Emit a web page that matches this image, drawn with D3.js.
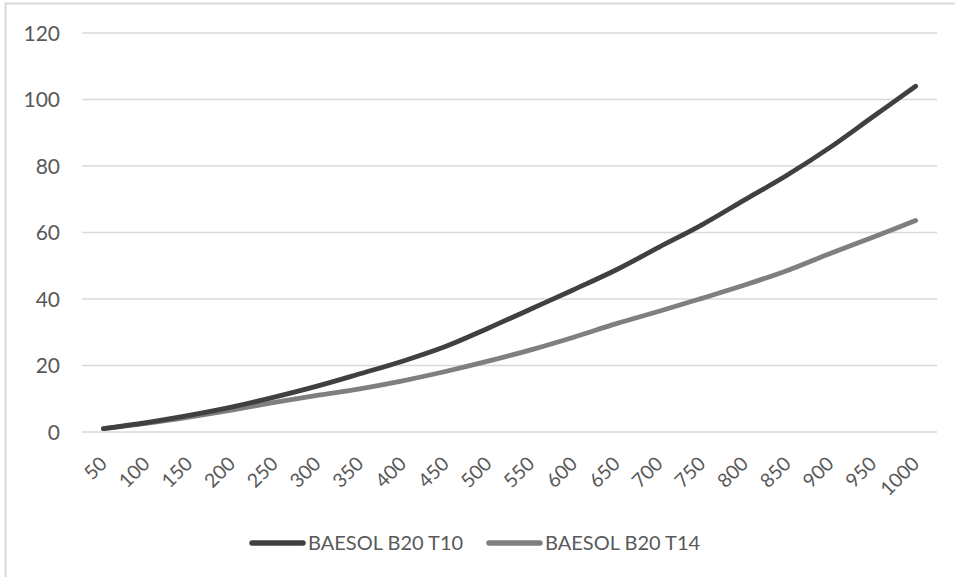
<!DOCTYPE html>
<html>
<head>
<meta charset="utf-8">
<script src="https://cdn.jsdelivr.net/npm/d3@7"></script>
<style>
  html, body { margin: 0; padding: 0; background: #fff; }
  svg { display: block; font-family: Lato, "Open Sans", sans-serif; }
</style>
</head>
<body>
<svg id="chart_svg" width="955" height="577"></svg>
<script>
const categories = ["50", "100", "150", "200", "250", "300", "350", "400", "450", "500",
  "550", "600", "650", "700", "750", "800", "850", "900", "950", "1000"];
const t10Values = [1, 2.8, 5, 7.5, 10.5, 13.8, 17.5, 21.3, 25.7, 31.2,
  37.0, 42.8, 48.8, 55.6, 62.3, 69.8, 77.3, 85.6, 94.8, 104];
const t14Values = [1, 2.6, 4.5, 6.6, 8.9, 11.0, 13.0, 15.4, 18.2, 21.3,
  24.7, 28.5, 32.6, 36.3, 40.2, 44.2, 48.6, 53.7, 58.6, 63.6];
const yTicks = [0, 20, 40, 60, 80, 100, 120];
const seriesNames = ["BAESOL B20 T10", "BAESOL B20 T14"];
const seriesColors = ["#404040", "#7f7f7f"];

const svg = d3.select("#chart_svg");

const plot = { left: 82, right: 937, top: 33, bottom: 432 };

// chart frame
svg.append("rect")
  .attr("x", 5.5).attr("y", 3.5)
  .attr("width", 1000).attr("height", 1000)
  .attr("fill", "none")
  .attr("stroke", "#d9d9d9")
  .attr("stroke-width", 2);

const xScale = d3.scalePoint()
  .domain(categories)
  .range([plot.left, plot.right])
  .padding(0.5);

const yScale = d3.scaleLinear()
  .domain([0, 120])
  .range([plot.bottom, plot.top]);

// gridlines
svg.append("g")
  .selectAll("line")
  .data(yTicks)
  .enter()
  .append("line")
  .attr("x1", plot.left)
  .attr("x2", plot.right)
  .attr("y1", d => yScale(d))
  .attr("y2", d => yScale(d))
  .attr("stroke", "#d9d9d9")
  .attr("stroke-width", 1.5);

// y labels
svg.append("g")
  .selectAll("text")
  .data(yTicks)
  .enter()
  .append("text")
  .attr("x", 60)
  .attr("y", d => yScale(d))
  .attr("dy", "0.36em")
  .attr("text-anchor", "end")
  .attr("fill", "#595959")
  .attr("font-size", 21)
  .text(d => d);

// x labels, rotated
svg.append("g")
  .selectAll("text")
  .data(categories)
  .enter()
  .append("text")
  .attr("text-anchor", "end")
  .attr("fill", "#595959")
  .attr("font-size", 19.5)
  .attr("transform", d => "translate(" + xScale(d) + "," + (plot.bottom + 28) + ") rotate(-45)")
  .attr("dy", "0.36em")
  .text(d => d);

// lines: lighter series first so the dark one sits on top
const series = [t14Values, t10Values];
const colors = [seriesColors[1], seriesColors[0]];
const line = d3.line()
  .x((d, i) => xScale(categories[i]))
  .y(d => yScale(d))
  .curve(d3.curveCatmullRom.alpha(0.5));

svg.append("g")
  .selectAll("path")
  .data(series)
  .enter()
  .append("path")
  .attr("fill", "none")
  .attr("stroke", (d, i) => colors[i])
  .attr("stroke-width", 4.8)
  .attr("stroke-linecap", "round")
  .attr("stroke-linejoin", "round")
  .attr("d", line);

// legend
const legendX = [252, 489];
const legend = svg.append("g")
  .selectAll("g")
  .data(seriesNames)
  .enter()
  .append("g")
  .attr("transform", (d, i) => "translate(" + legendX[i] + ",543)");

legend.append("line")
  .attr("x1", 0).attr("x2", 51)
  .attr("y1", 0).attr("y2", 0)
  .attr("stroke", (d, i) => seriesColors[i])
  .attr("stroke-width", 5.5)
  .attr("stroke-linecap", "round");

legend.append("text")
  .attr("x", 56)
  .attr("y", 0)
  .attr("dy", "0.36em")
  .attr("fill", "#595959")
  .attr("font-size", 20)
  .text(d => d);
</script>
</body>
</html>
